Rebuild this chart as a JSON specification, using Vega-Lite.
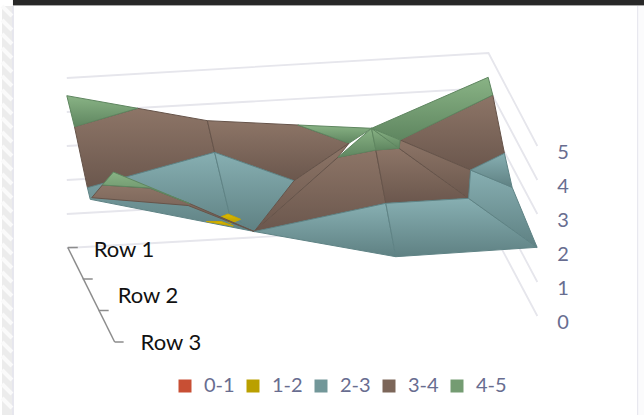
{"$schema":"https://vega.github.io/schema/vega-lite/v6.json","width":644,"height":415,"padding":0,"autosize":{"type":"fit","contains":"padding"},"background":"white","view":{"stroke":null},
"datasets":{
"panels":[{"x":0,"x2":10,"y":6,"y2":415,"c":"#ececec"},{"x":10,"x2":12,"y":6,"y2":415,"c":"#e6e6ee"},{"x":11,"x2":644,"y":0,"y2":5,"c":"#282828"},{"x":11,"x2":644,"y":5,"y2":6,"c":"#a8a8a8"},{"x":637,"x2":638.5,"y":6,"y2":415,"c":"#e8e8ef"},{"x":638.5,"x2":644,"y":6,"y2":415,"c":"#fbfbfc"}],
"hatch":[{"x":0,"y":6,"x2":10,"y2":16},{"x":0,"y":20,"x2":10,"y2":30},{"x":0,"y":34,"x2":10,"y2":44},{"x":0,"y":48,"x2":10,"y2":58},{"x":0,"y":62,"x2":10,"y2":72},{"x":0,"y":76,"x2":10,"y2":86},{"x":0,"y":90,"x2":10,"y2":100},{"x":0,"y":104,"x2":10,"y2":114},{"x":0,"y":118,"x2":10,"y2":128},{"x":0,"y":132,"x2":10,"y2":142},{"x":0,"y":146,"x2":10,"y2":156},{"x":0,"y":160,"x2":10,"y2":170},{"x":0,"y":174,"x2":10,"y2":184},{"x":0,"y":188,"x2":10,"y2":198},{"x":0,"y":202,"x2":10,"y2":212},{"x":0,"y":216,"x2":10,"y2":226},{"x":0,"y":230,"x2":10,"y2":240},{"x":0,"y":244,"x2":10,"y2":254},{"x":0,"y":258,"x2":10,"y2":268},{"x":0,"y":272,"x2":10,"y2":282},{"x":0,"y":286,"x2":10,"y2":296},{"x":0,"y":300,"x2":10,"y2":310},{"x":0,"y":314,"x2":10,"y2":324},{"x":0,"y":328,"x2":10,"y2":338},{"x":0,"y":342,"x2":10,"y2":352},{"x":0,"y":356,"x2":10,"y2":366},{"x":0,"y":370,"x2":10,"y2":380},{"x":0,"y":384,"x2":10,"y2":394},{"x":0,"y":398,"x2":10,"y2":408}],
"grid":[
{"g":"5","s":1,"x":65,"y":78},{"g":"5","s":2,"x":488,"y":53},{"g":"5","s":3,"x":537,"y":146},
{"g":"4","s":1,"x":65,"y":112},{"g":"4","s":2,"x":488,"y":88},{"g":"4","s":3,"x":537,"y":180},
{"g":"3","s":1,"x":65,"y":146},{"g":"3","s":2,"x":488,"y":122},{"g":"3","s":3,"x":537,"y":214},
{"g":"2","s":1,"x":65,"y":180},{"g":"2","s":2,"x":488,"y":156},{"g":"2","s":3,"x":537,"y":248},
{"g":"1","s":1,"x":65,"y":214},{"g":"1","s":2,"x":488,"y":190},{"g":"1","s":3,"x":537,"y":282},
{"g":"0","s":1,"x":65,"y":248},{"g":"0","s":2,"x":488,"y":224},{"g":"0","s":3,"x":537,"y":316}],
"ticks":[
{"g":"a","s":1,"x":66,"y":247.5},{"g":"a","s":2,"x":113,"y":342},
{"g":"t1","s":1,"x":66,"y":247.5},{"g":"t1","s":2,"x":76,"y":247.5},
{"g":"t2","s":1,"x":81,"y":279},{"g":"t2","s":2,"x":91,"y":279},
{"g":"t3","s":1,"x":97,"y":310.5},{"g":"t3","s":2,"x":107,"y":310.5},
{"g":"t4","s":1,"x":113,"y":342},{"g":"t4","s":2,"x":122,"y":342}],
"surface":[
{"p":"a","band":"3-4","s":1,"x":72.7,"y":126.7},{"p":"a","band":"3-4","s":2,"x":136,"y":108.3},{"p":"a","band":"3-4","s":3,"x":206,"y":120.7},{"p":"a","band":"3-4","s":4,"x":213.3,"y":152.3},{"p":"a","band":"3-4","s":5,"x":126.7,"y":176.7},{"p":"a","band":"3-4","s":6,"x":85.7,"y":187.7},{"p":"a","band":"3-4","s":7,"x":72.7,"y":126.7},
{"p":"b","band":"4-5","s":1,"x":65,"y":95.7},{"p":"b","band":"4-5","s":2,"x":136,"y":108.3},{"p":"b","band":"4-5","s":3,"x":72.7,"y":126.7},{"p":"b","band":"4-5","s":4,"x":65,"y":95.7},
{"p":"c","band":"3-4","s":1,"x":206,"y":120.7},{"p":"c","band":"3-4","s":2,"x":296.7,"y":125},{"p":"c","band":"3-4","s":3,"x":348,"y":143.3},{"p":"c","band":"3-4","s":4,"x":293,"y":180.7},{"p":"c","band":"3-4","s":5,"x":213.3,"y":152.3},{"p":"c","band":"3-4","s":6,"x":206,"y":120.7},
{"p":"d","band":"4-5","s":1,"x":296.7,"y":125},{"p":"d","band":"4-5","s":2,"x":370.7,"y":128.3},{"p":"d","band":"4-5","s":3,"x":348,"y":143.3},{"p":"d","band":"4-5","s":4,"x":296.7,"y":125},
{"p":"e","band":"2-3","s":1,"x":85.7,"y":187.7},{"p":"e","band":"2-3","s":2,"x":213.3,"y":152.3},{"p":"e","band":"2-3","s":3,"x":228,"y":213.5},{"p":"e","band":"2-3","s":4,"x":253,"y":231.5},{"p":"e","band":"2-3","s":5,"x":88.5,"y":199.3},{"p":"e","band":"2-3","s":6,"x":85.7,"y":187.7},
{"p":"f","band":"2-3","s":1,"x":213.3,"y":152.3},{"p":"f","band":"2-3","s":2,"x":293,"y":180.7},{"p":"f","band":"2-3","s":3,"x":253,"y":231.5},{"p":"f","band":"2-3","s":4,"x":228,"y":213.5},{"p":"f","band":"2-3","s":5,"x":213.3,"y":152.3},
{"p":"g","band":"1-2","s":1,"x":205,"y":221.5},{"p":"g","band":"1-2","s":2,"x":220,"y":221.5},{"p":"g","band":"1-2","s":3,"x":232,"y":226},{"p":"g","band":"1-2","s":4,"x":205,"y":221.5},
{"p":"h","band":"1-2","s":1,"x":220,"y":216.7},{"p":"h","band":"1-2","s":2,"x":226.7,"y":214},{"p":"h","band":"1-2","s":3,"x":239.3,"y":219.3},{"p":"h","band":"1-2","s":4,"x":229.3,"y":223.3},{"p":"h","band":"1-2","s":5,"x":220,"y":216.7},
{"p":"i","band":"3-4","s":1,"x":90,"y":197.7},{"p":"i","band":"3-4","s":2,"x":100.7,"y":185},{"p":"i","band":"3-4","s":3,"x":148,"y":188},{"p":"i","band":"3-4","s":4,"x":188,"y":203.5},{"p":"i","band":"3-4","s":5,"x":253,"y":231.5},{"p":"i","band":"3-4","s":6,"x":186.7,"y":205.5},{"p":"i","band":"3-4","s":7,"x":90,"y":197.7},
{"p":"j","band":"4-5","s":1,"x":111.7,"y":172},{"p":"j","band":"4-5","s":2,"x":100.7,"y":185},{"p":"j","band":"4-5","s":3,"x":148,"y":188},{"p":"j","band":"4-5","s":4,"x":188,"y":203.5},{"p":"j","band":"4-5","s":5,"x":111.7,"y":172},
{"p":"k","band":"3-4","s":1,"x":253,"y":231.5},{"p":"k","band":"3-4","s":2,"x":293,"y":180.7},{"p":"k","band":"3-4","s":3,"x":348,"y":143.3},{"p":"k","band":"3-4","s":4,"x":337,"y":157.3},{"p":"k","band":"3-4","s":5,"x":253,"y":231.5},
{"p":"l","band":"3-4","s":1,"x":253,"y":231.5},{"p":"l","band":"3-4","s":2,"x":337,"y":157.3},{"p":"l","band":"3-4","s":3,"x":375,"y":150},{"p":"l","band":"3-4","s":4,"x":385,"y":203.3},{"p":"l","band":"3-4","s":5,"x":253,"y":231.5},
{"p":"m","band":"3-4","s":1,"x":375,"y":150},{"p":"m","band":"3-4","s":2,"x":398.3,"y":148.3},{"p":"m","band":"3-4","s":3,"x":468,"y":198.3},{"p":"m","band":"3-4","s":4,"x":385,"y":203.3},{"p":"m","band":"3-4","s":5,"x":375,"y":150},
{"p":"n","band":"3-4","s":1,"x":399.3,"y":140},{"p":"n","band":"3-4","s":2,"x":492.3,"y":95},{"p":"n","band":"3-4","s":3,"x":504,"y":153.3},{"p":"n","band":"3-4","s":4,"x":470,"y":170},{"p":"n","band":"3-4","s":5,"x":399.3,"y":140},
{"p":"o","band":"3-4","s":1,"x":398.3,"y":148.3},{"p":"o","band":"3-4","s":2,"x":399.3,"y":140},{"p":"o","band":"3-4","s":3,"x":470,"y":170},{"p":"o","band":"3-4","s":4,"x":468,"y":198.3},{"p":"o","band":"3-4","s":5,"x":398.3,"y":148.3},
{"p":"q","band":"2-3","s":1,"x":253,"y":231.5},{"p":"q","band":"2-3","s":2,"x":385,"y":203.3},{"p":"q","band":"2-3","s":3,"x":395,"y":256.7},{"p":"q","band":"2-3","s":4,"x":253,"y":231.5},
{"p":"r","band":"2-3","s":1,"x":385,"y":203.3},{"p":"r","band":"2-3","s":2,"x":468,"y":198.3},{"p":"r","band":"2-3","s":3,"x":536.7,"y":247.3},{"p":"r","band":"2-3","s":4,"x":395,"y":256.7},{"p":"r","band":"2-3","s":5,"x":385,"y":203.3},
{"p":"u","band":"2-3","s":1,"x":470,"y":170},{"p":"u","band":"2-3","s":2,"x":511.7,"y":187.3},{"p":"u","band":"2-3","s":3,"x":536.7,"y":247.3},{"p":"u","band":"2-3","s":4,"x":468,"y":198.3},{"p":"u","band":"2-3","s":5,"x":470,"y":170},
{"p":"v","band":"2-3","s":1,"x":470,"y":170},{"p":"v","band":"2-3","s":2,"x":504,"y":153.3},{"p":"v","band":"2-3","s":3,"x":511.7,"y":187.3},{"p":"v","band":"2-3","s":4,"x":470,"y":170},
{"p":"w","band":"4-5","s":1,"x":370.7,"y":128.3},{"p":"w","band":"4-5","s":2,"x":487.7,"y":77.3},{"p":"w","band":"4-5","s":3,"x":492.3,"y":95},{"p":"w","band":"4-5","s":4,"x":399.3,"y":140},{"p":"w","band":"4-5","s":5,"x":370.7,"y":128.3},
{"p":"x","band":"4-5","s":1,"x":370.7,"y":128.3},{"p":"x","band":"4-5","s":2,"x":337,"y":157.3},{"p":"x","band":"4-5","s":3,"x":375,"y":150},{"p":"x","band":"4-5","s":4,"x":370.7,"y":128.3},
{"p":"y","band":"4-5","s":1,"x":370.7,"y":128.3},{"p":"y","band":"4-5","s":2,"x":375,"y":150},{"p":"y","band":"4-5","s":3,"x":398.3,"y":148.3},{"p":"y","band":"4-5","s":4,"x":370.7,"y":128.3},
{"p":"z","band":"4-5","s":1,"x":370.7,"y":128.3},{"p":"z","band":"4-5","s":2,"x":398.3,"y":148.3},{"p":"z","band":"4-5","s":3,"x":399.3,"y":140},{"p":"z","band":"4-5","s":4,"x":370.7,"y":128.3}],
"bands":[{"band":"0-1","x":300,"y":150},{"band":"1-2","x":300,"y":150},{"band":"2-3","x":300,"y":150},{"band":"3-4","x":300,"y":150},{"band":"4-5","x":300,"y":150}],
"rows":[{"t":"Row 1","x":92,"y":249.5},{"t":"Row 2","x":116,"y":296},{"t":"Row 3","x":139,"y":343}],
"vals":[{"t":"5","x":557,"y":152.5},{"t":"4","x":557,"y":186.5},{"t":"3","x":557,"y":220.5},{"t":"2","x":557,"y":254.5},{"t":"1","x":557,"y":288.5},{"t":"0","x":557,"y":322.5}]
},
"encoding":{"x":{"field":"x","type":"quantitative","axis":null,"scale":{"domain":[0,644],"nice":false,"zero":false}},"y":{"field":"y","type":"quantitative","axis":null,"scale":{"domain":[415,0],"nice":false,"zero":false}}},
"layer":[
{"data":{"name":"panels"},"mark":{"type":"rect","tooltip":null},"encoding":{"x2":{"field":"x2"},"y2":{"field":"y2"},"color":{"field":"c","type":"nominal","scale":null,"legend":null}}},
{"data":{"name":"hatch"},"mark":{"type":"rule","stroke":"#fafafa","strokeWidth":4},"encoding":{"x2":{"field":"x2"},"y2":{"field":"y2"}}},
{"data":{"name":"grid"},"mark":{"type":"line","stroke":"#e6e6ec","strokeWidth":1.8},"encoding":{"detail":{"field":"g"},"order":{"field":"s"}}},
{"data":{"name":"ticks"},"mark":{"type":"line","stroke":"#8c8c8c","strokeWidth":1.5},"encoding":{"detail":{"field":"g"},"order":{"field":"s"}}},
{"data":{"name":"surface"},"transform":[{"filter":{"field":"p","oneOf":["a","c"]}}],"mark":{"type":"line","strokeWidth":1,"stroke":"#66544a","fill":{"gradient":"linear","x1":0,"y1":0,"x2":0,"y2":1,"stops":[{"offset":0,"color":"#8d7567"},{"offset":1,"color":"#6b574d"}]}},"encoding":{"detail":{"field":"p"},"order":{"field":"s"}}},
{"data":{"name":"surface"},"transform":[{"filter":{"field":"p","oneOf":["b","d"]}}],"mark":{"type":"line","strokeWidth":1,"stroke":"#5f8660","fill":{"gradient":"linear","x1":0,"y1":0,"x2":0,"y2":1,"stops":[{"offset":0,"color":"#89b385"},{"offset":1,"color":"#5f8660"}]}},"encoding":{"detail":{"field":"p"},"order":{"field":"s"}}},
{"data":{"name":"surface"},"transform":[{"filter":{"field":"p","oneOf":["e","f"]}}],"mark":{"type":"line","strokeWidth":1,"stroke":"#5f8385","fill":{"gradient":"linear","x1":0,"y1":0,"x2":0,"y2":1,"stops":[{"offset":0,"color":"#87afb2"},{"offset":1,"color":"#5f8183"}]}},"encoding":{"detail":{"field":"p"},"order":{"field":"s"}}},
{"data":{"name":"surface"},"transform":[{"filter":{"field":"p","oneOf":["g","h"]}}],"mark":{"type":"line","strokeWidth":1,"stroke":"#c8a800","fill":{"gradient":"linear","x1":0,"y1":0,"x2":0,"y2":1,"stops":[{"offset":0,"color":"#e0bc00"},{"offset":1,"color":"#b89c00"}]}},"encoding":{"detail":{"field":"p"},"order":{"field":"s"}}},
{"data":{"name":"surface"},"transform":[{"filter":{"field":"p","oneOf":["i"]}}],"mark":{"type":"line","strokeWidth":1,"stroke":"#66544a","fill":{"gradient":"linear","x1":0,"y1":0,"x2":0,"y2":1,"stops":[{"offset":0,"color":"#8d7567"},{"offset":1,"color":"#6b574d"}]}},"encoding":{"detail":{"field":"p"},"order":{"field":"s"}}},
{"data":{"name":"surface"},"transform":[{"filter":{"field":"p","oneOf":["j"]}}],"mark":{"type":"line","strokeWidth":1,"stroke":"#5f8660","fill":{"gradient":"linear","x1":0,"y1":0,"x2":0,"y2":1,"stops":[{"offset":0,"color":"#89b385"},{"offset":1,"color":"#5f8660"}]}},"encoding":{"detail":{"field":"p"},"order":{"field":"s"}}},
{"data":{"name":"surface"},"transform":[{"filter":{"field":"p","oneOf":["k","l","m","n","o"]}}],"mark":{"type":"line","strokeWidth":1,"stroke":"#66544a","fill":{"gradient":"linear","x1":0,"y1":0,"x2":0,"y2":1,"stops":[{"offset":0,"color":"#8d7567"},{"offset":1,"color":"#6b574d"}]}},"encoding":{"detail":{"field":"p"},"order":{"field":"s"}}},
{"data":{"name":"surface"},"transform":[{"filter":{"field":"p","oneOf":["q","r","u","v"]}}],"mark":{"type":"line","strokeWidth":1,"stroke":"#5f8385","fill":{"gradient":"linear","x1":0,"y1":0,"x2":0,"y2":1,"stops":[{"offset":0,"color":"#87afb2"},{"offset":1,"color":"#5f8183"}]}},"encoding":{"detail":{"field":"p"},"order":{"field":"s"}}},
{"data":{"name":"surface"},"transform":[{"filter":{"field":"p","oneOf":["w","x","y","z"]}}],"mark":{"type":"line","strokeWidth":1,"stroke":"#5f8660","fill":{"gradient":"linear","x1":0,"y1":0,"x2":0,"y2":1,"stops":[{"offset":0,"color":"#89b385"},{"offset":1,"color":"#5f8660"}]}},"encoding":{"detail":{"field":"p"},"order":{"field":"s"}}},
{"data":{"name":"bands"},"mark":{"type":"square","size":1,"opacity":0},"encoding":{"fill":{"field":"band","type":"nominal","scale":{"domain":["0-1","1-2","2-3","3-4","4-5"],"range":["#c84f34","#baa000","#729799","#7c6659","#749c72"]},
"legend":{"title":null,"orient":"none","legendX":173,"legendY":376,"direction":"horizontal","columns":5,"columnPadding":8,"padding":0,"symbolType":"square","symbolSize":169,"symbolStrokeWidth":0,"symbolOpacity":1,"labelFont":"Lato","labelFontSize":20,"labelColor":"#686d90","labelOffset":9,"labelLimit":80,
"encode":{"symbols":{"update":{"opacity":{"value":1},"fill":[
{"test":"datum.value==='0-1'","value":{"gradient":"linear","x1":0,"y1":0,"x2":0,"y2":1,"stops":[{"offset":0,"color":"#e5583a"},{"offset":1,"color":"#a8452e"}]}},
{"test":"datum.value==='1-2'","value":{"gradient":"linear","x1":0,"y1":0,"x2":0,"y2":1,"stops":[{"offset":0,"color":"#cbb000"},{"offset":1,"color":"#9c8400"}]}},
{"test":"datum.value==='2-3'","value":{"gradient":"linear","x1":0,"y1":0,"x2":0,"y2":1,"stops":[{"offset":0,"color":"#87afb2"},{"offset":1,"color":"#5f8183"}]}},
{"test":"datum.value==='3-4'","value":{"gradient":"linear","x1":0,"y1":0,"x2":0,"y2":1,"stops":[{"offset":0,"color":"#8d7567"},{"offset":1,"color":"#6b574d"}]}},
{"value":{"gradient":"linear","x1":0,"y1":0,"x2":0,"y2":1,"stops":[{"offset":0,"color":"#89b385"},{"offset":1,"color":"#5f8660"}]}}]}}}}}}},
{"data":{"name":"rows"},"mark":{"type":"text","font":"Lato","fontSize":22,"align":"left","baseline":"middle","color":"#111111"},"encoding":{"text":{"field":"t"}}},
{"data":{"name":"vals"},"mark":{"type":"text","font":"Lato","fontSize":20,"align":"left","baseline":"middle","color":"#686d90"},"encoding":{"text":{"field":"t"}}}
]}
